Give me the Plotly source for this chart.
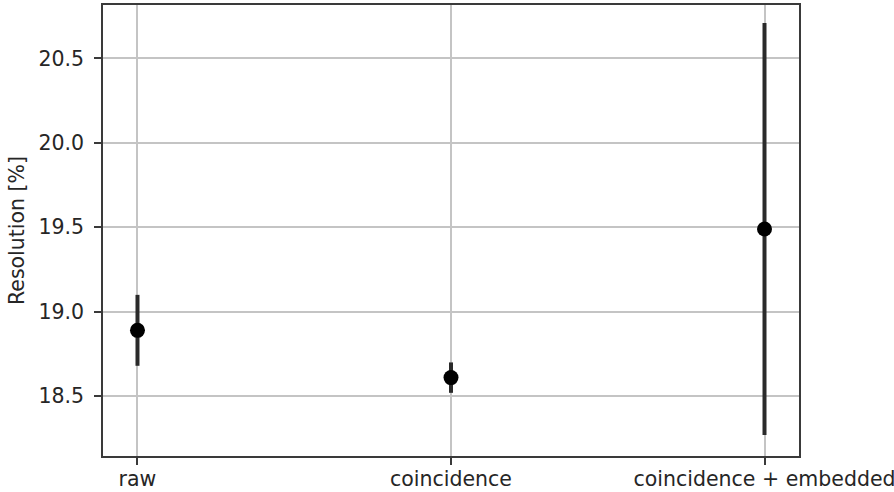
import plotly.graph_objects as go

categories = ["raw", "coincidence", "coincidence + embedded"]
resolution = [18.89, 18.61, 19.49]
resolution_err = [0.21, 0.09, 1.22]
y_ticks = [18.5, 19.0, 19.5, 20.0, 20.5]
y_tick_labels = ["18.5", "19.0", "19.5", "20.0", "20.5"]

fig = go.Figure()
fig.add_trace(go.Scatter(
    x=categories,
    y=resolution,
    mode="markers",
    marker=dict(color="black", size=15),
    error_y=dict(type="data", array=resolution_err, visible=True,
                 color="#2a2a2a", thickness=4, width=0),
    showlegend=False,
))

font = dict(family="DejaVu Sans", size=20.5, color="#262626")
axis_common = dict(
    showline=True, mirror=True, linecolor="#3a3a3a", linewidth=1.5,
    showgrid=True, gridcolor="#c4c4c4", gridwidth=1.5,
    ticks="outside", ticklen=7, tickwidth=1.5, tickcolor="#3a3a3a",
    zeroline=False, tickfont=font, automargin=False,
)

fig.update_layout(
    width=894, height=492,
    margin=dict(l=103, r=95, t=5, b=36),
    paper_bgcolor="white", plot_bgcolor="white",
    font=font,
    xaxis=dict(type="category", range=[-0.11, 2.11], ticklabelstandoff=-3,
               **axis_common),
    yaxis=dict(range=[18.146, 20.816], tickvals=y_ticks, ticktext=y_tick_labels,
               title=dict(text="Resolution [%]", font=font, standoff=8),
               ticklabelstandoff=6, **axis_common),
)

fig.write_html("out.html",
               config={"displayModeBar": False},
               post_script="document.body.style.margin='0';document.body.style.overflow='hidden';")
